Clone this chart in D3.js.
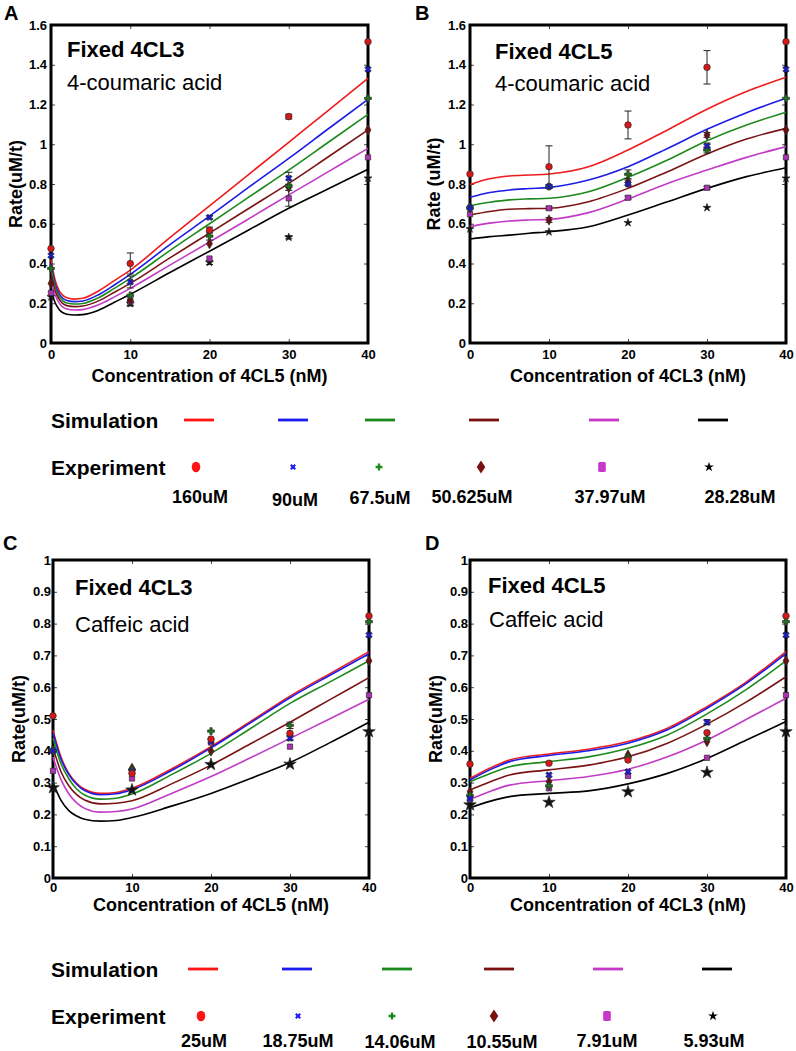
<!DOCTYPE html>
<html><head><meta charset="utf-8">
<script src="https://cdn.jsdelivr.net/npm/d3@7"></script>
<style>body{margin:0;background:#fff} svg{display:block;background:#fff}</style>
</head><body>
<svg id="c" width="796" height="1051"></svg>
<script>
// ---------------- DATA ----------------
const xTicks = [0, 10, 20, 30, 40];
const xTickLabels = ['0', '10', '20', '30', '40'];
const yTicksAB = [0, 0.2, 0.4, 0.6, 0.8, 1.0, 1.2, 1.4, 1.6];
const yTickLabelsAB = ['0', '0.2', '0.4', '0.6', '0.8', '1', '1.2', '1.4', '1.6'];
const yTicksCD = [0, 0.1, 0.2, 0.3, 0.4, 0.5, 0.6, 0.7, 0.8, 0.9, 1.0];
const yTickLabelsCD = ['0', '0.1', '0.2', '0.3', '0.4', '0.5', '0.6', '0.7', '0.8', '0.9', '1'];

const concAB = ['160uM', '90uM', '67.5uM', '50.625uM', '37.97uM', '28.28uM'];
const concCD = ['25uM', '18.75uM', '14.06uM', '10.55uM', '7.91uM', '5.93uM'];

// simulation curves (series order: red, blue, green, dark red, magenta, black)
const simXA = [0, 0.5, 1, 1.5, 2, 3, 4, 6, 8, 10, 15, 20, 25, 30, 35, 40];
const simA = [
  [0.42, 0.32, 0.265, 0.24, 0.228, 0.221, 0.225, 0.262, 0.314, 0.367, 0.53, 0.69, 0.85, 1.01, 1.17, 1.332],
  [0.40, 0.30, 0.25, 0.225, 0.214, 0.208, 0.211, 0.243, 0.292, 0.345, 0.495, 0.638, 0.785, 0.929, 1.078, 1.226],
  [0.38, 0.285, 0.237, 0.212, 0.201, 0.196, 0.199, 0.228, 0.275, 0.325, 0.465, 0.600, 0.735, 0.870, 1.01, 1.150],
  [0.35, 0.265, 0.222, 0.198, 0.188, 0.183, 0.186, 0.212, 0.255, 0.300, 0.428, 0.553, 0.678, 0.803, 0.937, 1.072],
  [0.32, 0.245, 0.203, 0.18, 0.171, 0.166, 0.168, 0.192, 0.232, 0.275, 0.392, 0.508, 0.626, 0.745, 0.862, 0.979],
  [0.27, 0.205, 0.17, 0.152, 0.145, 0.141, 0.143, 0.165, 0.205, 0.245, 0.355, 0.462, 0.570, 0.678, 0.776, 0.874]
];
const simXB = [0, 2.5, 5, 7.5, 10, 15, 20, 25, 30, 35, 40];
const simB = [
  [0.798, 0.826, 0.840, 0.845, 0.850, 0.887, 0.971, 1.072, 1.176, 1.265, 1.337],
  [0.733, 0.757, 0.770, 0.777, 0.783, 0.820, 0.887, 0.979, 1.075, 1.159, 1.231],
  [0.691, 0.708, 0.720, 0.725, 0.728, 0.761, 0.834, 0.921, 1.018, 1.097, 1.161],
  [0.644, 0.662, 0.673, 0.676, 0.678, 0.711, 0.778, 0.862, 0.951, 1.026, 1.080],
  [0.585, 0.603, 0.614, 0.619, 0.622, 0.656, 0.725, 0.803, 0.870, 0.934, 0.988],
  [0.523, 0.535, 0.543, 0.552, 0.560, 0.585, 0.644, 0.711, 0.778, 0.837, 0.882]
];
const simXC = [0, 1, 2, 3, 4, 6, 8, 10, 15, 20, 25, 30, 35, 40];
const simC = [
  [0.465, 0.381, 0.329, 0.298, 0.279, 0.266, 0.269, 0.282, 0.343, 0.413, 0.492, 0.572, 0.642, 0.712],
  [0.455, 0.375, 0.325, 0.294, 0.275, 0.262, 0.265, 0.278, 0.338, 0.409, 0.488, 0.567, 0.637, 0.705],
  [0.44, 0.36, 0.312, 0.28, 0.261, 0.248, 0.251, 0.264, 0.325, 0.392, 0.470, 0.549, 0.616, 0.683],
  [0.41, 0.335, 0.29, 0.262, 0.245, 0.233, 0.235, 0.243, 0.296, 0.355, 0.422, 0.490, 0.560, 0.630],
  [0.38, 0.31, 0.265, 0.236, 0.219, 0.207, 0.209, 0.217, 0.266, 0.319, 0.378, 0.439, 0.500, 0.562],
  [0.30, 0.245, 0.212, 0.195, 0.185, 0.179, 0.181, 0.190, 0.226, 0.266, 0.313, 0.363, 0.425, 0.490]
];
const simXD = [0, 2.5, 5, 10, 15, 20, 25, 30, 35, 40];
const simD = [
  [0.313, 0.345, 0.371, 0.390, 0.405, 0.429, 0.471, 0.539, 0.617, 0.712],
  [0.308, 0.340, 0.366, 0.385, 0.400, 0.424, 0.466, 0.534, 0.612, 0.706],
  [0.303, 0.328, 0.350, 0.366, 0.381, 0.408, 0.450, 0.516, 0.593, 0.683],
  [0.277, 0.302, 0.324, 0.340, 0.355, 0.381, 0.424, 0.484, 0.554, 0.633],
  [0.247, 0.272, 0.292, 0.306, 0.319, 0.342, 0.381, 0.434, 0.499, 0.565],
  [0.221, 0.241, 0.256, 0.266, 0.274, 0.296, 0.329, 0.376, 0.434, 0.492]
];

// experimental points at expX, with error half-widths
const expX = [0, 10, 20, 30, 40];
const expA = [
  [0.475, 0.40, 0.568, 1.139, 1.516],
  [0.44, 0.307, 0.632, 0.829, 1.377],
  [0.375, 0.24, 0.538, 0.79, 1.231],
  [0.30, 0.215, 0.50, 0.783, 1.072],
  [0.252, 0.207, 0.425, 0.728, 0.934],
  [0.232, 0.198, 0.405, 0.532, 0.829]
];
const errA = [
  [0, 0.053, 0.015, 0.012, 0],
  [0, 0.03, 0.008, 0.03, 0],
  [0, 0, 0.02, 0, 0],
  [0, 0, 0, 0, 0],
  [0, 0.02, 0, 0.04, 0],
  [0, 0.01, 0.01, 0.008, 0]
];
const expB = [
  [0.850, 0.887, 1.097, 1.387, 1.516],
  [0.68, 0.787, 0.80, 0.991, 1.377],
  [0.68, 0.787, 0.849, 0.971, 1.231],
  [0.681, 0.619, 0.808, 1.047, 1.072],
  [0.648, 0.678, 0.731, 0.781, 0.934],
  [0.574, 0.559, 0.605, 0.681, 0.829]
];
const errB = [
  [0, 0.105, 0.07, 0.084, 0],
  [0, 0, 0, 0.015, 0],
  [0, 0.01, 0.022, 0.015, 0],
  [0, 0.012, 0.012, 0.012, 0],
  [0, 0.008, 0.008, 0.008, 0],
  [0, 0, 0, 0, 0]
];
const expC = [
  [0.51, 0.329, 0.437, 0.455, 0.824],
  [0.40, 0.335, 0.43, 0.44, 0.764],
  [0.40, 0.34, 0.462, 0.48, 0.806],
  [0.40, 0.345, 0.399, 0.450, 0.683],
  [0.337, 0.313, 0.426, 0.413, 0.575],
  [0.284, 0.277, 0.357, 0.358, 0.460]
];
const errC = [
  [0, 0, 0, 0, 0],
  [0, 0, 0, 0.008, 0],
  [0, 0, 0, 0.01, 0],
  [0, 0, 0, 0, 0],
  [0, 0, 0, 0, 0],
  [0, 0, 0, 0, 0]
];
const expD = [
  [0.358, 0.361, 0.371, 0.457, 0.824],
  [0.25, 0.324, 0.334, 0.490, 0.764],
  [0.26, 0.29, 0.38, 0.439, 0.806],
  [0.271, 0.303, 0.387, 0.429, 0.683],
  [0.247, 0.282, 0.321, 0.378, 0.575],
  [0.230, 0.238, 0.271, 0.332, 0.460]
];
const errD = [
  [0, 0, 0, 0, 0],
  [0, 0, 0, 0.008, 0],
  [0, 0, 0, 0, 0],
  [0, 0, 0, 0, 0],
  [0, 0, 0, 0, 0],
  [0, 0, 0, 0, 0]
];

// ---------------- STYLE / LAYOUT ----------------
const lineColors = ['#ee1c1c', '#1c1ce6', '#1e8a1e', '#7a1414', '#c13bc6', '#000000'];
const markColors = ['#d81818', '#1a1ad0', '#1a7a1a', '#6a1010', '#b030b8', '#111111'];
const legendColors = ['#ff1414', '#1c1cf0', '#1a8a1a', '#7a1010', '#c838c8', '#000000'];
const FONT = '"Liberation Sans", Arial, Helvetica, sans-serif';
const NARROW = '"Liberation Sans Narrow", "Arial Narrow", "Liberation Sans", Arial, sans-serif';

const svg = d3.select('#c');

function marker(sel, k, starSize) {
  const types = [d3.symbolCircle, d3.symbolCross, d3.symbolCross, d3.symbolDiamond, d3.symbolSquare, d3.symbolStar];
  const sizes = [34, 26, 26, 30, 28, starSize];
  sel.append('path')
    .attr('d', d3.symbol(types[k], sizes[k])())
    .attr('transform', k === 1 ? 'rotate(45)' : null);
}

function drawPanel(p) {
  const g = svg.append('g');
  const x = d3.scaleLinear().domain([0, 40]).range([p.L, p.R]);
  const y = d3.scaleLinear().domain([0, p.yMax]).range([p.B, p.T]);

  const tickStyle = (a) => {
    a.select('.domain').remove();
    a.selectAll('.tick line').attr('stroke', '#444').attr('stroke-width', 1);
    a.selectAll('.tick text').attr('font-family', FONT).attr('font-weight', 'bold')
      .attr('font-size', 13).attr('fill', '#000');
  };
  g.append('g').attr('transform', `translate(0,${p.B})`)
    .call(d3.axisBottom(x).tickValues(xTicks).tickFormat((d, i) => xTickLabels[i]).tickSizeInner(-4).tickSizeOuter(0).tickPadding(p.xPad))
    .call(tickStyle);
  g.append('g').attr('transform', `translate(0,${p.T})`)
    .call(d3.axisTop(x).tickValues(xTicks).tickFormat('').tickSizeInner(-4).tickSizeOuter(0))
    .call(tickStyle);
  g.append('g').attr('transform', `translate(${p.L},0)`)
    .call(d3.axisLeft(y).tickValues(p.yTicks).tickFormat((d, i) => p.yLabels[i]).tickSizeInner(-4).tickSizeOuter(0).tickPadding(p.yPad))
    .call(tickStyle);
  g.append('g').attr('transform', `translate(${p.R},0)`)
    .call(d3.axisRight(y).tickValues(p.yTicks).tickFormat('').tickSizeInner(-4).tickSizeOuter(0))
    .call(tickStyle);

  g.append('rect').attr('x', p.L).attr('y', p.T).attr('width', p.R - p.L).attr('height', p.B - p.T)
    .attr('fill', 'none').attr('stroke', '#000').attr('stroke-width', 3);

  const line = d3.line().x(d => x(d[0])).y(d => y(d[1])).curve(d3.curveMonotoneX);
  p.sim.forEach((s, i) => {
    g.append('path').datum(p.simX.map((xv, j) => [xv, s[j]]))
      .attr('d', line).attr('fill', 'none').attr('stroke', lineColors[i]).attr('stroke-width', 1.6);
  });

  // error bars
  p.exp.forEach((s, i) => {
    s.forEach((v, j) => {
      const e = p.err[i][j];
      if (!e) return;
      const cx = x(expX[j]);
      const eg = g.append('g').attr('stroke', '#222').attr('stroke-width', 1);
      eg.append('line').attr('x1', cx).attr('x2', cx).attr('y1', y(v - e)).attr('y2', y(v + e));
      eg.append('line').attr('x1', cx - 3.5).attr('x2', cx + 3.5).attr('y1', y(v - e)).attr('y2', y(v - e));
      eg.append('line').attr('x1', cx - 3.5).attr('x2', cx + 3.5).attr('y1', y(v + e)).attr('y2', y(v + e));
    });
  });
  // markers (black first, red last)
  for (let i = p.exp.length - 1; i >= 0; i--) {
    p.exp[i].forEach((v, j) => {
      const mg = g.append('g').attr('transform', `translate(${x(expX[j])},${y(v)})`)
        .attr('fill', markColors[i]).attr('stroke', '#2a2a2a').attr('stroke-width', 0.7);
      marker(mg, i, p.starSize);
    });
  }

  // texts
  svg.append('text').attr('x', p.letter[0]).attr('y', p.letter[1]).text(p.letterText)
    .attr('font-family', FONT).attr('font-weight', 'bold').attr('font-size', 20);
  svg.append('text').attr('x', p.t1[0]).attr('y', p.t1[1]).text(p.title1)
    .attr('font-family', FONT).attr('font-weight', 'bold').attr('font-size', 22);
  svg.append('text').attr('x', p.t2[0]).attr('y', p.t2[1]).text(p.title2)
    .attr('font-family', FONT).attr('font-size', 22);
  svg.append('text').attr('x', (p.L + p.R) / 2).attr('y', p.xt).text(p.xTitle)
    .attr('text-anchor', 'middle').attr('font-family', FONT).attr('font-weight', 'bold').attr('font-size', 18);
  svg.append('text').attr('transform', `translate(${p.yt[0]},${p.yt[1]}) rotate(-90)`).attr('dy', '0.35em')
    .text(p.yTitle).attr('text-anchor', 'middle').attr('font-family', FONT).attr('font-weight', 'bold').attr('font-size', 18);
}

drawPanel({L: 51, R: 368, T: 25, B: 343, yMax: 1.6, yTicks: yTicksAB, yLabels: yTickLabelsAB, xPad: 7, yPad: 4,
  simX: simXA, sim: simA, exp: expA, err: errA, starSize: 20, letterText: 'A', letter: [4, 20],
  title1: 'Fixed 4CL3', t1: [67, 57], title2: '4-coumaric acid', t2: [67, 90],
  xTitle: 'Concentration of 4CL5 (nM)', xt: 382, yTitle: 'Rate(uM/t)', yt: [16, 184]});
drawPanel({L: 470, R: 786, T: 25, B: 343, yMax: 1.6, yTicks: yTicksAB, yLabels: yTickLabelsAB, xPad: 7, yPad: 4,
  simX: simXB, sim: simB, exp: expB, err: errB, starSize: 20, letterText: 'B', letter: [415, 20],
  title1: 'Fixed 4CL5', t1: [495, 59], title2: '4-coumaric acid', t2: [495, 91],
  xTitle: 'Concentration of 4CL3 (nM)', xt: 382, yTitle: 'Rate (uM/t)', yt: [434, 184]});
drawPanel({L: 53, R: 369, T: 560, B: 878, yMax: 1.0, yTicks: yTicksCD, yLabels: yTickLabelsCD, xPad: 5, yPad: 2,
  simX: simXC, sim: simC, exp: expC, err: errC, starSize: 48, letterText: 'C', letter: [3, 550],
  title1: 'Fixed 4CL3', t1: [75, 595], title2: 'Caffeic acid', t2: [75, 632],
  xTitle: 'Concentration of 4CL5 (nM)', xt: 911, yTitle: 'Rate(uM/t)', yt: [19, 719]});
drawPanel({L: 470, R: 786, T: 560, B: 878, yMax: 1.0, yTicks: yTicksCD, yLabels: yTickLabelsCD, xPad: 5, yPad: 2,
  simX: simXD, sim: simD, exp: expD, err: errD, starSize: 48, letterText: 'D', letter: [425, 550],
  title1: 'Fixed 4CL5', t1: [488, 593], title2: 'Caffeic acid', t2: [489, 627],
  xTitle: 'Concentration of 4CL3 (nM)', xt: 911, yTitle: 'Rate(uM/t)', yt: [436, 719]});

// ---------------- LEGENDS ----------------
function legend(lg) {
  const g = svg.append('g');
  g.append('text').attr('x', 51).attr('y', lg.simY + 7.5).text('Simulation')
    .attr('font-family', FONT).attr('font-weight', 'bold').attr('font-size', 21);
  g.append('text').attr('x', 51).attr('y', lg.expY + 7.5).text('Experiment')
    .attr('font-family', FONT).attr('font-weight', 'bold').attr('font-size', 21);
  lg.lineX.forEach((lx, i) => {
    g.append('line').attr('x1', lx).attr('x2', lx + 30).attr('y1', lg.simY).attr('y2', lg.simY)
      .attr('stroke', legendColors[i]).attr('stroke-width', 2.8);
  });
  lg.markX.forEach((mx, i) => {
    const mg = g.append('g').attr('transform', `translate(${mx},${lg.expY})`).attr('fill', legendColors[i]);
    if (i === 0) mg.append('ellipse').attr('rx', 4.3).attr('ry', 5.2);
    else if (i === 3) mg.append('path').attr('d', 'M0,-6.5L4.3,0L0,6.5L-4.3,0Z');
    else if (i === 4) mg.append('rect').attr('x', -3.8).attr('y', -5).attr('width', 7.6).attr('height', 10).attr('rx', 1.5);
    else if (i === 1) mg.append('path').attr('d', d3.symbol(d3.symbolCross, 22)()).attr('transform', 'rotate(45)');
    else if (i === 2) mg.append('path').attr('d', d3.symbol(d3.symbolCross, 26)());
    else mg.append('path').attr('d', d3.symbol(d3.symbolStar, 30)());
  });
  lg.labels.forEach((t, i) => {
    g.append('text').attr('x', lg.labelX[i]).attr('y', lg.labelY + lg.labelDy[i] + 6.5).text(t)
      .attr('text-anchor', 'middle').attr('font-family', NARROW).attr('font-weight', 'bold').attr('font-size', 18);
  });
}
legend({simY: 420, expY: 467, labelY: 496, labels: concAB,
  lineX: [184, 278, 365, 469, 589, 698], markX: [196, 293, 379, 481, 602, 709],
  labelX: [200, 295, 380, 472, 610, 740], labelDy: [0, 3, 1, 0, 0, 0]});
legend({simY: 969, expY: 1016, labelY: 1040, labels: concCD,
  lineX: [188, 282, 382, 484, 593, 702], markX: [201, 298, 392, 494, 607, 713],
  labelX: [204, 298, 400, 502, 607, 714], labelDy: [0, 0, 1, 1, 0, 0]});
</script>
</body></html>
